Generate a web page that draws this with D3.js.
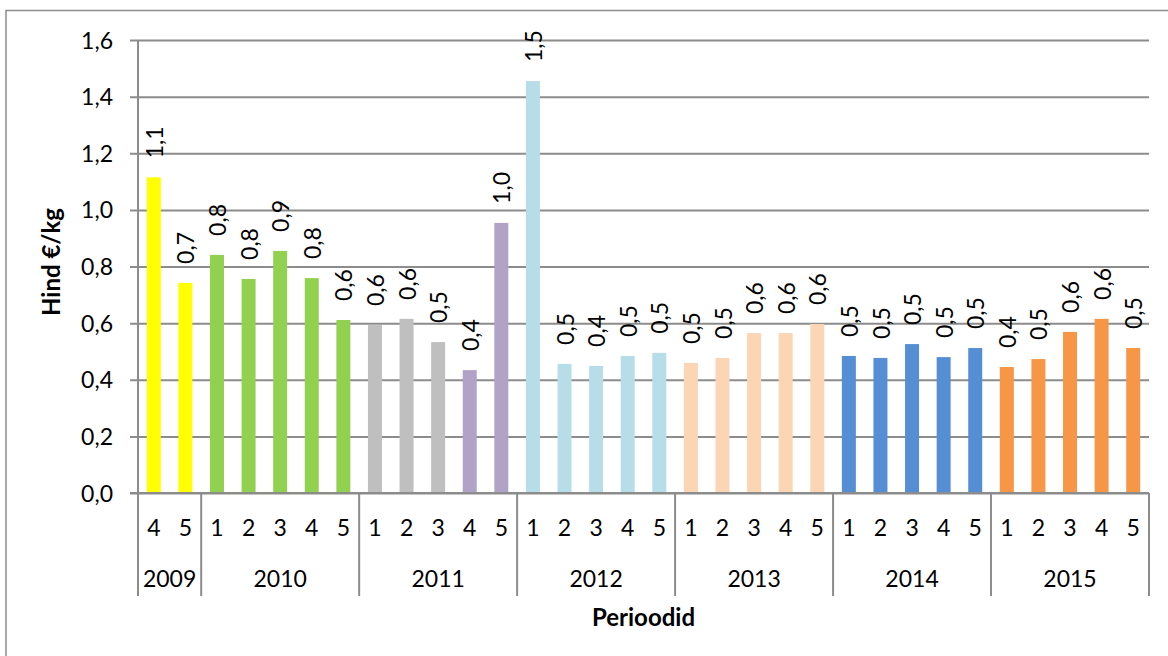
<!DOCTYPE html>
<html>
<head>
<meta charset="utf-8">
<script src="https://cdn.jsdelivr.net/npm/d3@7/dist/d3.min.js"></script>
<style>
  html, body { margin: 0; padding: 0; background: #fff; }
  svg { display: block; }
  text { font-family: Lato, "Open Sans", "DejaVu Sans", sans-serif; fill: #000; }
</style>
</head>
<body>
<svg id="chart" width="1168" height="656"></svg>
<script>
// ---- data ----
const years = ["2009", "2010", "2011", "2012", "2013", "2014", "2015"];
const periods = [
  ["4", "5"],
  ["1", "2", "3", "4", "5"],
  ["1", "2", "3", "4", "5"],
  ["1", "2", "3", "4", "5"],
  ["1", "2", "3", "4", "5"],
  ["1", "2", "3", "4", "5"],
  ["1", "2", "3", "4", "5"]
];
const prices = [
  [1.115, 0.742],
  [0.841, 0.756, 0.855, 0.759, 0.611],
  [0.593, 0.615, 0.533, 0.434, 0.954],
  [1.455, 0.456, 0.449, 0.484, 0.495],
  [0.459, 0.477, 0.565, 0.565, 0.597],
  [0.484, 0.477, 0.526, 0.480, 0.512],
  [0.445, 0.473, 0.569, 0.615, 0.512]
];
const yTicks = [0, 0.2, 0.4, 0.6, 0.8, 1.0, 1.2, 1.4, 1.6];
const yTitle = "Hind €/kg";
const xTitle = "Perioodid";

// bar colours (style), per year and period
const barColors = [
  ["#FFFF00", "#FFFF00"],
  ["#92D050", "#92D050", "#92D050", "#92D050", "#92D050"],
  ["#BFBFBF", "#BFBFBF", "#BFBFBF", "#B2A2C7", "#B2A2C7"],
  ["#B7DDE8", "#B7DDE8", "#B7DDE8", "#B7DDE8", "#B7DDE8"],
  ["#FCD5B5", "#FCD5B5", "#FCD5B5", "#FCD5B5", "#FCD5B5"],
  ["#558ED5", "#558ED5", "#558ED5", "#558ED5", "#558ED5"],
  ["#F79646", "#F79646", "#F79646", "#F79646", "#F79646"]
];

// ---- flatten ----
const rows = [];
years.forEach((y, gi) => {
  periods[gi].forEach((p, pi) => {
    rows.push({ key: y + "-" + p, year: y, period: p, value: prices[gi][pi], color: barColors[gi][pi] });
  });
});

// ---- layout ----
const L = 138, R = 1149, T = 40, B = 493;
const FS = 23;
const svg = d3.select("#chart");
const gridColor = "#8C8C8C";

// outer border
svg.append("rect").attr("x", 6).attr("y", 10.5).attr("width", 1200).attr("height", 700)
  .attr("fill", "none").attr("stroke", "#8C8C8C").attr("stroke-width", 1.5);

const pad = 0.557;
const x = d3.scaleBand().domain(rows.map(d => d.key)).range([L, R]).paddingInner(pad).paddingOuter(pad / 2);
const y = d3.scaleLinear().domain([0, 1.6]).range([B, T]);
const fmt = v => d3.format(".1f")(v).replace(".", ",");

// gridlines + y ticks
const yAxis = d3.axisLeft(y).tickValues(yTicks).tickSize(-(R - L + 8)).tickPadding(0).tickFormat(fmt);
const gy = svg.append("g").attr("transform", `translate(${L - 8},0)`);
gy.call(yAxis);
gy.attr("font-size", null).attr("font-family", null);
gy.select(".domain").remove();
gy.selectAll(".tick line").attr("stroke", gridColor).attr("stroke-width", 2).attr("x1", 0).attr("x2", R - L + 8);
gy.selectAll(".tick text").attr("x", -17).attr("dy", "0.35em").style("font-size", FS + "px");

// y axis line
svg.append("line").attr("x1", L).attr("x2", L).attr("y1", T).attr("y2", B)
  .attr("stroke", gridColor).attr("stroke-width", 2);

// bars
svg.append("g").selectAll("rect").data(rows).join("rect")
  .attr("x", d => x(d.key))
  .attr("width", x.bandwidth())
  .attr("y", d => y(d.value))
  .attr("height", d => B - y(d.value))
  .attr("fill", d => d.color);

// value labels (rotated)
svg.append("g").selectAll("text").data(rows).join("text")
  .attr("transform", d => `translate(${x(d.key) + x.bandwidth() / 2 + 1},${y(d.value) - 19}) rotate(-90)`)
  .attr("text-anchor", "start")
  .attr("dy", "0.35em")
  .style("font-size", FS + "px")
  .text(d => fmt(d.value));

// x axis: baseline
svg.append("line").attr("x1", L - 8).attr("x2", R).attr("y1", B).attr("y2", B)
  .attr("stroke", gridColor).attr("stroke-width", 2);

// period labels via axis
const xAxis = d3.axisBottom(x).tickSize(0).tickPadding(0).tickFormat(k => rows.find(r => r.key === k).period);
const gx = svg.append("g").attr("transform", `translate(0,${B})`).call(xAxis);
gx.attr("font-size", null).attr("font-family", null);
gx.select(".domain").remove();
gx.selectAll(".tick text").attr("y", 35).attr("dy", "0.35em").style("font-size", FS + "px");

// group separators and year labels
let idx = 0;
const groups = years.map((yy, gi) => {
  const first = rows[idx].key;
  const last = rows[idx + periods[gi].length - 1].key;
  idx += periods[gi].length;
  return { year: yy, x0: x(first) - x.step() * pad / 2, x1: x(last) + x.bandwidth() + x.step() * pad / 2 };
});
const seps = [groups[0].x0].concat(groups.map(g => g.x1));
svg.append("g").selectAll("line").data(seps).join("line")
  .attr("x1", d => d).attr("x2", d => d).attr("y1", B).attr("y2", 596)
  .attr("stroke", gridColor).attr("stroke-width", 2);
svg.append("g").selectAll("text").data(groups).join("text")
  .attr("x", d => (d.x0 + d.x1) / 2).attr("y", 579).attr("dy", "0.35em")
  .attr("text-anchor", "middle").style("font-size", FS + "px").text(d => d.year);

// titles
svg.append("text").attr("x", 643.5).attr("y", 618).attr("dy", "0.35em")
  .attr("text-anchor", "middle").style("font-size", "24px").attr("font-weight", "bold").text(xTitle);
svg.append("text").attr("transform", "translate(52,262) rotate(-90)").attr("dy", "0.35em")
  .attr("text-anchor", "middle").style("font-size", "24px").attr("font-weight", "bold").text(yTitle);
</script>
</body>
</html>
